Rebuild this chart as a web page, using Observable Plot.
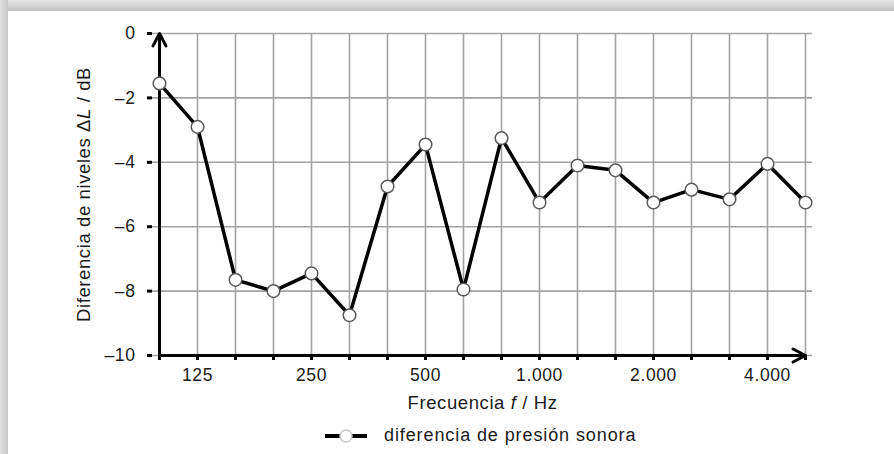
<!DOCTYPE html>
<html>
<head>
<meta charset="utf-8">
<script src="https://cdn.jsdelivr.net/npm/d3@7"></script>
<script src="https://cdn.jsdelivr.net/npm/@observablehq/plot@0.6"></script>
<style>
  html, body { margin: 0; padding: 0; background: #fff; }
  #page { position: relative; width: 894px; height: 454px; overflow: hidden; background: #fff; font-family: "Liberation Sans", Arial, Helvetica, sans-serif; }
  #bandTop { position: absolute; left: 0; top: 0; width: 894px; height: 11px; background: linear-gradient(to bottom, #e4e4e4, #c2c2c2); }
  #bandLeft { position: absolute; left: 0; top: 0; width: 8px; height: 454px; background: linear-gradient(to right, #e2e2e2, #c6c6c6); }
  #chart { position: absolute; left: 0; top: 0; }
  #legend { position: absolute; left: 323px; top: 425px; display: flex; align-items: center; font-size: 18px; letter-spacing: 0.9px; color: #1a1a1a; }
  #legend svg { margin-right: 15px; }
</style>
</head>
<body>
<div id="page">
  <div id="bandTop"></div>
  <div id="bandLeft"></div>
  <div id="chart"></div>
  <div id="legend"></div>
</div>
<script>
const freqs = [100, 125, 160, 200, 250, 315, 400, 500, 630, 800, 1000, 1250, 1600, 2000, 2500, 3150, 4000, 5000];
const levels = [-1.55, -2.9, -7.65, -8.0, -7.45, -8.75, -4.75, -3.45, -7.95, -3.25, -5.25, -4.1, -4.25, -5.25, -4.85, -5.15, -4.05, -5.25];
const xLabelFreqs = [125, 250, 500, 1000, 2000, 4000];
const xLabelTexts = ["125", "250", "500", "1.000", "2.000", "4.000"];
const yTicks = [0, -2, -4, -6, -8, -10];
const yTickTexts = ["0", "–2", "–4", "–6", "–8", "–10"];
const seriesName = "diferencia de presión sonora";

const data = freqs.map((f, i) => ({f, v: levels[i]}));
const axisLines = [
  {x1: freqs[0], y1: yTicks[yTicks.length - 1], x2: freqs[0], y2: yTicks[0]},
  {x1: freqs[0], y1: yTicks[yTicks.length - 1], x2: freqs[freqs.length - 1], y2: yTicks[yTicks.length - 1]}
];

const plot = Plot.plot({
  width: 894,
  height: 420,
  marginLeft: 152,
  marginRight: 82,
  marginTop: 33,
  marginBottom: 65,
  style: {background: "transparent", fontFamily: "'Liberation Sans', Arial, Helvetica, sans-serif", fontSize: "17px", color: "#1a1a1a", letterSpacing: "0.6px"},
  x: {type: "point", domain: freqs, padding: 0},
  y: {domain: [-10, 0]},
  marks: [
    Plot.ruleX(freqs, {x: d => d, stroke: "#a2a2a2", strokeWidth: 1.6}),
    Plot.ruleY(yTicks, {y: d => d, stroke: "#a2a2a2", strokeWidth: 1.6}),
    Plot.axisX({
      ticks: freqs,
      tickFormat: f => { const i = xLabelFreqs.indexOf(f); return i < 0 ? "" : xLabelTexts[i]; },
      tickSize: 5, tickPadding: 8, stroke: "black", strokeWidth: 3, fill: "#1a1a1a", fontSize: 17.5,
      label: "Frecuencia f / Hz", labelAnchor: "center", labelOffset: 53
    }),
    Plot.axisY({
      ticks: yTicks,
      tickFormat: v => yTickTexts[yTicks.indexOf(v)],
      tickSize: 5, tickPadding: 12, stroke: "black", strokeWidth: 3, fill: "#1a1a1a", fontSize: 17.5,
      label: "Diferencia de niveles ΔL / dB", labelAnchor: "center", labelOffset: 76
    }),
    Plot.arrow(axisLines, {x1: "x1", y1: "y1", x2: "x2", y2: "y2", stroke: "black", strokeWidth: 3, headLength: 7, headAngle: 55}),
    Plot.line(data, {x: "f", y: "v", stroke: "black", strokeWidth: 3.5, strokeLinejoin: "round"}),
    Plot.dot(data, {x: "f", y: "v", r: 6.3, fill: "white", stroke: "#5a5a5a", strokeWidth: 1.5})
  ]
});
document.getElementById("chart").append(plot);

function italicize(selector, before, it, after) {
  const t = plot.querySelector(selector);
  if (!t) return;
  t.textContent = "";
  t.setAttribute("font-size", "18.5px");
  const ns = "http://www.w3.org/2000/svg";
  const a = document.createElementNS(ns, "tspan"); a.textContent = before;
  const b = document.createElementNS(ns, "tspan"); b.textContent = it; b.setAttribute("font-style", "italic");
  const c = document.createElementNS(ns, "tspan"); c.textContent = after;
  t.append(a, b, c);
}
italicize('g[aria-label="x-axis label"] text', "Frecuencia ", "f", " / Hz");
italicize('g[aria-label="y-axis label"] text', "Diferencia de niveles Δ", "L", " / dB");

// legend
const legend = document.getElementById("legend");
const sym = d3.create("svg").attr("width", 46).attr("height", 16);
sym.append("line").attr("x1", 2).attr("x2", 44).attr("y1", 8).attr("y2", 8).attr("stroke", "black").attr("stroke-width", 4);
sym.append("circle").attr("cx", 23).attr("cy", 8).attr("r", 6).attr("fill", "white").attr("stroke", "#c8c8c8").attr("stroke-width", 1.5);
legend.append(sym.node());
const lt = document.createElement("span"); lt.textContent = seriesName;
legend.append(lt);
</script>
</body>
</html>
